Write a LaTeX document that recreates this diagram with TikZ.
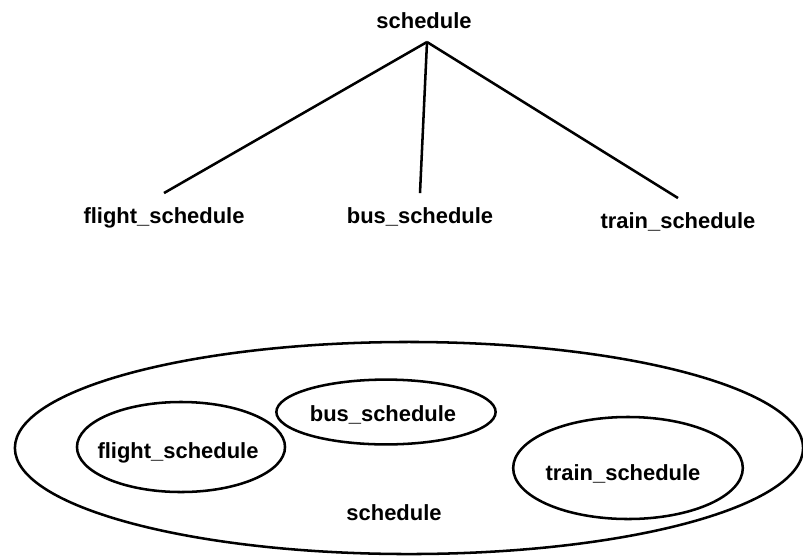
\documentclass[tikz,border=0pt]{standalone}
\usepackage{fontspec}
\setmainfont{Liberation Sans}
\usepackage{tikz}

\begin{document}
\begin{tikzpicture}[x=0.025cm,y=-0.025cm,line width=1.8pt,
    lbl/.style={font=\fontsize{15.6}{18}\selectfont\bfseries,inner sep=0pt,outer ysep=10pt,anchor=base}]
    \useasboundingbox (0,0) rectangle (803,555);
    % tree
    \node[lbl] (top) at (424,28) {schedule};
    \node[lbl] (flight) at (164,223) {flight\_schedule};
    \node[lbl] (bus) at (420,223) {bus\_schedule};
    \node[lbl] (train) at (678,228) {train\_schedule};
    \coordinate (apex) at (427,42);
    \draw (apex) -- (flight.north);
    \draw (apex) -- (bus.north);
    \draw (apex) -- (train.north);
    % sets
    \draw (409,448) ellipse [x radius=9.85cm, y radius=2.65cm];
    \draw (181,447) ellipse [x radius=2.6cm, y radius=1.125cm];
    \draw (386,412) ellipse [x radius=2.74cm, y radius=0.81cm];
    \draw (628,468) ellipse [x radius=2.87cm, y radius=1.275cm];
    \node[lbl] (fs) at (178,458) {flight\_schedule};
    \node[lbl] (bs) at (383,421) {bus\_schedule};
    \node[lbl] (ts) at (623,480) {train\_schedule};
    \node[lbl] (all) at (394,520) {schedule};
\end{tikzpicture}
\end{document}
